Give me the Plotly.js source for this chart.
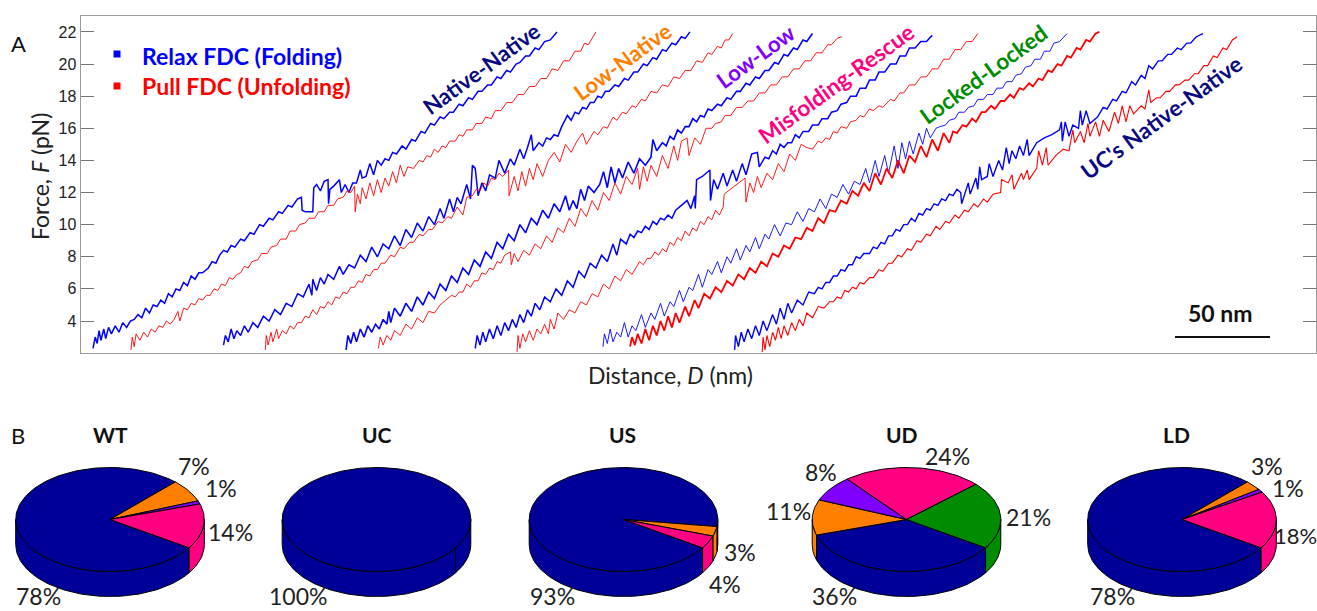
<!DOCTYPE html>
<html><head><meta charset="utf-8">
<script src="https://cdn.plot.ly/plotly-3.0.1.min.js"></script>
<style>html,body{margin:0;padding:0;background:#fff}</style></head>
<body><div id="chart" style="width:1317px;height:611px"></div>
<script>
// ---- Panel A: force-distance curves, each point is [D in nm, F in pN]
const relax1=[[6.3,2.3],[7.5,3.0],[8.5,2.6],[9.5,3.4],[10.5,2.8],[12,3.5],[13,2.9],[14.5,3.6],[16,3.2],[18,3.7],[20,3.3],[22,3.9],[24,3.6],[26,4.0],[28,4.1],[30,4.4],[32,4.2],[34,4.8],[36,4.5],[38,5.0],[40,4.9],[42,5.3],[44,5.1],[46,5.7],[48,5.5],[50,6.0],[52,5.9],[54,6.4],[56,6.2],[58,6.8],[60,6.6],[62,7.0],[64,7.0],[67,7.3],[69,7.7],[71,7.6],[73,8.1],[75,8.4],[77,8.3],[79,8.7],[81,8.6],[84,9.1],[86,9.0],[89,9.5],[91,9.4],[94,10],[96,9.9],[99,10.4],[101,10.3],[104,10.8],[106,10.7],[109,11.2],[111,11.1],[114,11.6],[116,11.7],[116.4,10.9],[118,10.8],[122,10.8],[122.5,12.3],[124,12.5],[126,12.1],[128,12.7],[130,12.8],[130.3,11.3],[131,12.2],[133,12.4],[136,12.8],[137,12.0],[139,12.5],[141,12.0],[143,12.6],[145,12.6],[147,13.4],[148,12.9],[150,13.0],[152,13.8],[154,13.1],[156,14],[158,13.7],[160,14.1],[162,14],[164,14.5],[166,14.4],[169,14.9],[171,14.7],[174,15.3],[176,15.2],[179,15.8],[181,15.7],[184,16.3],[186,16.2],[189,16.7],[191,16.6],[194,17.0],[196,17.0],[199,17.5],[201,17.4],[204,17.9],[206,17.8],[209,18.3],[211,18.3],[214,18.7],[216,18.7],[219,19.2],[221,19.1],[224,19.6],[226,19.5],[229,20],[231,20.1],[234,20.5],[236,20.5],[239,21],[241,20.9],[244,21.4],[247,21.5],[250.5,22]];
const pull1=[[26.3,2.2],[27,3.0],[28,2.4],[29,3.2],[31,2.8],[33,3.3],[35,3.0],[37,3.5],[39,3.3],[41,3.7],[43,3.6],[45,4.0],[47,3.8],[49,4.1],[51,4.6],[52,4.0],[54,4.8],[56,4.7],[58,5.1],[60,5.0],[62,5.4],[64,5.3],[66,5.6],[68,5.6],[70,6.0],[72,5.9],[74,6.3],[76,6.2],[78,6.7],[80,6.6],[82,6.9],[84,7.0],[86,7.4],[88,7.3],[90,7.7],[93,7.8],[95,8.2],[98,8.2],[100,8.6],[103,8.7],[105,9.1],[108,9.1],[110,9.6],[113,9.6],[115,10],[118,10.1],[120,10.4],[123,10.4],[125,10.8],[128,10.8],[130,11.2],[133,11.2],[135,11.6],[138,11.7],[140,12.1],[142,12.0],[144,12.4],[144.3,10.8],[145.5,11.9],[147,11.3],[148,12.3],[150,11.6],[152,12.6],[154,11.8],[156,12.8],[158,12],[160,12.9],[162,12.4],[164,13.3],[166,12.6],[168,13.7],[170,13],[172,13.6],[175,13.5],[178,14.0],[180,13.9],[182,14.3],[184,14.2],[186,14.7],[188,14.5],[190,14.9],[192,14.8],[194,15.2],[197,15.2],[199,15.6],[201,15.5],[203,15.9],[206,15.9],[208,16.3],[211,16.3],[213,16.7],[216,16.6],[218,17.1],[221,17.1],[224,17.6],[227,17.6],[230,18.1],[233,18.1],[236,18.6],[239,18.6],[242,19.1],[245,19.1],[248,19.7],[251,19.6],[254,20.2],[257,20.2],[260,20.8],[263,20.8],[265,21.3],[267,21.2],[269,21.6],[271,22]];
const relax2=[[75,2.5],[76,3.1],[77.5,2.7],[79,3.5],[80.5,2.9],[82,3.4],[84,3.1],[86,3.7],[88,3.3],[90.5,3.9],[93,3.6],[96,4.3],[99,4.0],[102,4.7],[105,4.4],[108,5.1],[111,4.9],[114,5.7],[117,5.5],[120,6.3],[121.5,5.6],[122,6.6],[124,5.9],[126,6.7],[128,6.3],[130,6.9],[133,6.6],[136,7.4],[138,6.9],[141,7.5],[144,7.3],[147,8.1],[150,7.7],[153,8.6],[156,8.0],[159,8.8],[162,8.5],[165,9.3],[168,8.7],[171,9.7],[174,9.2],[177,10.1],[180,9.6],[183,10.5],[186,10],[189,11],[191,10.4],[194,11.6],[196,10.8],[198,11.7],[200,11.3],[203,12.5],[205,11.6],[206,13.7],[207.5,13.5],[209,11.8],[211,12.6],[213,12.1],[215,13.1],[218,12.9],[220,14],[223,13.2],[226,14.1],[228,13.7],[231,14.7],[233,14.1],[235,14.8],[237,15.6],[238,14.6],[241,15.1],[243,14.9],[245,15.4],[247,15.3],[249,15.6],[251,15.5],[253,16.1],[256,16.8],[258,16.5],[260,17],[262,16.9],[264,17.3],[266,17.2],[268,17.6],[270,17.6],[272,18],[274,17.9],[276,18.3],[278,18.3],[281,18.7],[283,18.6],[286,19.1],[288,19],[291,19.5],[293,19.5],[296,20],[298,19.9],[301,20.4],[303,20.3],[306,20.9],[308,20.8],[311,21.3],[313,21.2],[316,21.7],[318,21.6],[320.5,22]];
const pull2=[[97,2.2],[97.5,3.1],[98.5,2.5],[100,3.3],[101,2.7],[103,3.5],[104,2.9],[106,3.4],[108,3.2],[110,3.7],[112,3.5],[114,3.9],[116,3.9],[118,4.3],[120,4.2],[122,4.7],[124,4.4],[126,4.9],[128,4.8],[130,5.2],[132,5.0],[134,5.5],[136,5.4],[138,5.8],[140,5.7],[142,6.1],[144,6.1],[146,6.5],[148,6.4],[150,6.9],[152,6.8],[154,7.2],[156,7.2],[158,7.6],[160,7.6],[163,8.1],[165,8],[168,8.6],[170,8.5],[173,8.9],[175,8.9],[178,9.4],[180,9.3],[183,9.7],[185,9.7],[188,10.2],[190,10.1],[193,10.5],[195,10.4],[198,11.1],[201,10.6],[203,11.7],[206,11.8],[208,12.2],[210,12.1],[212,12.6],[214,12.4],[216,12.9],[218,12.8],[220,13.2],[222,13],[225,13.4],[225.3,11.8],[228,13],[230,12.1],[232,13.3],[234,12.4],[236,13.5],[238,12.8],[240,13.8],[243,13],[246,14],[249,14.5],[252,13.9],[255,15],[258,14.5],[261,15.2],[264,15.7],[266,15.0],[270,15.8],[272,15.6],[275,16.1],[277,16],[280,16.7],[282,16.5],[285,17],[287,16.9],[290,17.4],[292,17.3],[295,17.8],[297,17.7],[300,18.3],[303,18.2],[306,18.7],[309,18.6],[312,19.2],[315,19.1],[318,19.6],[321,19.6],[324,20.2],[327,20.1],[330,20.7],[332,20.6],[335,21.1],[337,21],[339,21.5],[341,21.5],[343,21.9]];
const relax3=[[139.5,2.2],[140.5,3.1],[142,2.6],[143.5,3.3],[145,2.7],[147,3.5],[149,3.0],[151,3.7],[153,3.3],[155,3.8],[157,3.5],[159,4.1],[161,3.8],[162,4.6],[163,3.9],[165,4.8],[168,4.3],[171,5.1],[174,4.6],[177,5.5],[180,5.0],[183,5.8],[186,5.4],[189,6.3],[192,5.9],[195,6.8],[198,6.4],[201,7.3],[204,6.9],[207,7.8],[210,7.4],[213,8.3],[216,7.9],[219,8.9],[222,8.5],[225,9.4],[228,9.0],[231,10],[234,9.5],[237,10.4],[240,10],[243,10.9],[246,10.4],[249,11.3],[252,10.8],[255,11.8],[257,10.9],[259,11.5],[261,11],[263,12.2],[265,11.5],[267,12.4],[270,12.0],[273,12.5],[275,13.3],[277,12.3],[279,13.6],[281,12.6],[283,13.5],[285,12.9],[288,13.9],[291,13.2],[294,14.1],[297,13.7],[300,14.2],[301,15.3],[303,14.6],[306,15.1],[308,14.9],[310,15.5],[312,15.3],[314,15.9],[316,15.7],[318,16.1],[320,16.1],[322,16.6],[324,16.4],[326,16.8],[328,16.7],[330,17.2],[332,17.1],[335,17.5],[337,17.4],[340,17.9],[342,17.8],[345,18.3],[347,18.3],[350,18.8],[352,18.7],[355,19.2],[357,19.1],[360,19.6],[362,19.6],[365,20.1],[367,20],[370,20.6],[372,20.5],[375,21],[377,20.9],[380,21.5],[382,21.4],[385,21.9]];
const pull3=[[156.5,2.3],[157.5,3.0],[159,2.5],[161,3.1],[163,2.8],[165,3.4],[168,3.1],[171,3.8],[174,3.5],[177,4.2],[180,3.9],[183,4.6],[186,4.5],[189,5.0],[192,5.3],[195,5.6],[197,5.5],[199,5.8],[201,5.8],[203,6.3],[205,6.1],[207,6.5],[209,6.5],[211,7.0],[213,6.9],[215,7.3],[217,7.2],[219,7.7],[221,7.6],[223,8.1],[226,8.3],[226.5,7.5],[228,8.2],[230,7.7],[233,8.4],[236,8.1],[239,8.8],[242,8.5],[245,9.3],[248,8.9],[251,9.8],[254,9.5],[257,10.4],[260,9.9],[263,11],[266,10.5],[269,11.5],[272,10.9],[275,12],[278,11.5],[281,12.6],[284,11.9],[287,13],[290,12.5],[293,13.5],[294,12.2],[296,13.6],[298,12.7],[300,13.7],[303,13],[306,14.3],[309,13.5],[312,14.9],[314,14],[316,15.2],[319,15.4],[320,14.3],[323,15.4],[326,15],[329,16],[332,16],[334,16.3],[337,16.4],[339,16.8],[342,16.8],[345,17.3],[348,17.3],[351,17.7],[354,17.7],[357,18.2],[360,18.2],[363,18.7],[366,18.7],[369,19.2],[372,19.2],[375,19.7],[378,19.7],[381,20.2],[384,20.2],[387,20.7],[390,20.7],[393,21.2],[395,21.2],[398,21.6],[400.5,21.7]];
const relax4=[[207.5,2.3],[208.5,3.1],[210,2.5],[211.5,3.3],[213,2.7],[215,3.5],[217,2.9],[219,3.7],[221,3.1],[223,3.9],[225,3.4],[227,4.1],[229,3.6],[231,4.4],[233,3.9],[235,4.7],[237,4.3],[239,5.1],[241.5,4.7],[244,5.5],[247,5.2],[250,6],[253,5.6],[256,6.5],[259,6.1],[262,7.1],[265,6.7],[268,7.6],[271,7.3],[274,8.1],[277,7.7],[280,8.8],[282,8.1],[284,9.1],[287,8.8],[289,9.4],[291,9.2],[293,9.6],[295,9.5],[297,9.9],[299,9.7],[301,10.2],[303,10.0],[305,10.4],[307,10.3],[309,10.6],[311,10.4],[313,10.9],[316,11.2],[319,11.5],[321,11],[323,11.8],[323.3,11],[324,12.8],[327,13],[331,13.4],[331.3,11.5],[333,12.8],[335,12.2],[338,13.2],[340,12.4],[343,13.4],[345,12.7],[348,13.8],[350,13.1],[353,14.4],[356,14.5],[357,13.6],[360,14.2],[362,14.1],[364,14.6],[366,14.4],[368,15],[370,14.8],[372,15.1],[374,15.1],[376,15.6],[378,15.4],[380,15.8],[383,15.8],[385,16.2],[388,16.2],[390,16.6],[393,16.6],[395,17],[398,17.1],[400,17.5],[403,17.6],[405,18],[408,18],[410,18.5],[413,18.5],[415,19],[418,19],[420,19.5],[423,19.5],[426,20],[429,20],[431,20.5],[434,20.5],[436,21],[439,21],[442,21.4],[445,21.4],[448,21.8]];
const pull4=[[229.5,2.05],[230,3.1],[231,2.3],[232.5,3.2],[234,2.7],[236,3.4],[238,2.8],[240,3.5],[242,3.2],[244,3.8],[246,3.2],[247,4.1],[249,3.5],[251,4.5],[254,4.1],[257,4.7],[260,4.5],[263,5.2],[266,5],[269,5.7],[272,5.5],[275,6.3],[278,6],[281,6.8],[284,6.5],[287,7.2],[290,6.9],[294,7.7],[296,7.5],[298,7.9],[300,7.9],[302,8.3],[304,8.1],[306,8.5],[308,8.3],[310,8.9],[312,8.7],[314,9.2],[316,9],[318,9.6],[320,9.3],[322,9.8],[324,9.6],[326,10.2],[328,10],[330,10.5],[332,10.3],[334,10.9],[336,10.6],[338,11.1],[338.5,11.9],[342,12.2],[346,12.6],[349.5,12.9],[350,11.4],[352,12.6],[354,12],[356,13],[358,12.3],[361,13.2],[364,12.8],[367,13.8],[370,13.3],[373,14.4],[376,14],[379,15],[382,14.8],[385,14.7],[388,15.2],[390,15.1],[392,15.4],[394,15.3],[396,15.8],[398,15.7],[400,16.1],[403,16],[405,16.4],[408,16.5],[410,16.8],[412,16.7],[415,17.2],[417,17.1],[420,17.4],[422,17.3],[426,17.8],[428,17.7],[431,18.2],[433,18.2],[436,18.7],[439,18.7],[442,19.2],[445,19.2],[448,19.7],[451,19.7],[454,20.3],[457,20.3],[460,20.9],[463,20.9],[466,21.4],[469,21.4],[472,21.9]];
const relax5=[[274.7,2.4],[275.5,3.2],[277,2.6],[278.5,3.5],[280,2.7],[282,3.3],[284,3.0],[286,3.9],[288,3.0],[290,3.7],[292,3.4],[295,4.4],[297,3.6],[300,4.5],[302,4.1],[305,5.1],[307,4.3],[310,5.2],[312,4.9],[315,5.9],[317,5.2],[320,6.1],[322,5.9],[325,6.9],[327,6.1],[330,7.2],[332,6.9],[335,7.7],[337,7.0],[340,8.0],[342,7.6],[345,8.5],[347,7.8],[350,8.7],[352,8.3],[355,9.2],[357,8.5],[360,9.4],[362,9.1],[365,10],[368,9.3],[371,10.1],[374,10],[377,10.8],[380,10.2],[383,11],[386,10.8],[389,11.6],[392,11],[395,11.9],[398,11.7],[401,12.5],[404,11.9],[407,12.7],[410,12.5],[413,13.5],[415,12.6],[418,14],[420,13],[423,14.3],[425,13.2],[428,14.9],[430,13.5],[432,15.1],[434,14.1],[436,15.2],[438,14.4],[441,15.7],[443,15],[445,16],[447,15.4],[450,16],[452,16.1],[455,16.2],[457,16.5],[460,16.6],[462,17],[465,17],[467,17.3],[470,17.4],[472,17.8],[475,17.8],[477,18.1],[480,18.1],[482,18.5],[485,18.5],[487,18.9],[490,18.9],[492,19.3],[495,19.4],[497,19.8],[500,19.9],[502,20.3],[505,20.3],[507,20.8],[510,20.8],[512,21.3],[515,21.4],[519,21.9]];
const pull5=[[289,2.4],[290,3.0],[291.5,2.5],[293,3.2],[295,2.6],[297,3.5],[299,2.8],[301,3.7],[303,3.1],[305,4.0],[307,3.4],[309,4.3],[311,3.6],[313,4.5],[315,3.9],[318,4.9],[320,4.3],[323,5.3],[325,4.8],[328,5.7],[331,5.4],[334,6.1],[337,5.8],[340,6.5],[343,6.2],[346,6.9],[349,6.6],[352,7.3],[355,7.0],[358,7.7],[361,7.4],[364,8.2],[367,8],[370,8.7],[373,8.5],[376,9.2],[379,9.1],[382,9.8],[385,9.6],[388,10.4],[391,10.1],[394,10.9],[397,10.8],[400,11.5],[403,11.3],[406,12.1],[409,11.8],[412,12.6],[415,12.1],[418,13.2],[421,12.5],[424,13.5],[427,12.9],[430,14],[433,13.2],[436,14.3],[439,13.9],[442,14.9],[445,14.2],[448,15.3],[451,14.6],[454,15.7],[457,15.1],[459,15.8],[461,15.7],[464,16.2],[466,16.1],[469,16.6],[471,16.4],[474,17],[476,17],[479,17.4],[481,17.2],[484,17.7],[486,17.7],[489,18.1],[491,17.9],[494,18.5],[496,18.4],[499,18.8],[501,18.6],[504,19.1],[506,19],[509,19.6],[511,19.5],[514,20],[516,19.9],[519,20.5],[521,20.4],[524,21],[526,20.9],[529,21.5],[531,21.4],[534,21.9],[536,22]];
const relax6=[[344,2.2],[344.5,3.1],[346,2.4],[347.5,3.3],[349,2.7],[351,3.5],[353,2.9],[355,3.7],[357,3.1],[359,4],[361,3.4],[364,4.4],[366,3.8],[368,4.8],[370,4.1],[372,5.1],[374,4.5],[377,5.3],[380,5],[383,5.8],[386,5.7],[388,6.1],[390,6],[392,6.4],[394,6.4],[396,6.8],[398,6.8],[400,7.2],[402,7.1],[404,7.5],[406,7.5],[408,8],[410,7.9],[412,8.2],[415,8.2],[417,8.6],[419,8.5],[421,8.9],[423,8.8],[425,9.3],[427,9.3],[429,9.7],[431,9.6],[433,10],[435,10],[437,10.4],[439,10.2],[441,10.7],[443,10.6],[445,11],[447,10.9],[449,11.3],[451,11.2],[453,11.6],[455,11.5],[457,11.9],[459,11.8],[461,12.2],[463,12],[463.5,11.3],[467,12.6],[468,11.9],[471,12.9],[472,12.2],[473,13.6],[474,12.8],[477,13],[478,13.8],[480,13.0],[483,14],[485,13.4],[487,14.8],[488.5,13.8],[490,14.6],[492,14.1],[494,14.9],[496,14.3],[498,15.3],[499,14.3],[503,15.1],[507,15.4],[511,15.6],[515,15.9],[516,16.4],[516.5,15.2],[518,16.4],[520,15.5],[522,16.2],[525,16],[526,17.1],[527,16.2],[529,17.1],[531,16.3],[535,16.7],[538,17.3],[540,17.2],[543,17.8],[545,17.7],[548,18.3],[550,18.2],[553,18.9],[555,18.7],[558,19.3],[560,19.1],[562,19.9],[564,19.7],[567,20.2],[569,20.2],[572,20.6],[574,20.6],[577,21],[579,20.9],[582,21.3],[584,21.3],[587,21.7],[590.5,21.9]];
const pull6=[[358.5,2.05],[359,3],[360,2.2],[361,3.1],[362.5,2.4],[364,3.3],[365.5,2.8],[367,3.6],[368.5,2.9],[370,3.7],[372,3.1],[374,3.9],[376,3.4],[378,4.1],[380,3.7],[382,4.5],[385,4.2],[388,4.9],[391,4.8],[394,5.2],[396,5.2],[398,5.5],[400,5.4],[402,5.9],[404,5.8],[406,6.1],[408,6],[410,6.4],[412,6.3],[415,6.7],[417,6.7],[420,7.2],[422,7.1],[425,7.6],[427,7.6],[430,8.1],[432,8],[435,8.5],[437,8.4],[440,9],[442,8.9],[445,9.4],[447,9.3],[450,9.9],[452,9.7],[455,10.2],[457,10.1],[460,10.6],[462,10.4],[465,10.9],[467,10.8],[470,11.3],[472,11.1],[475,11.6],[477,11.4],[480,11.9],[484,12],[484.5,12.8],[488,12.6],[490,13.1],[491,12.2],[495,13.2],[496,12.8],[498,13.4],[499,12.8],[503,13.5],[504,14.6],[506,13.7],[508,14.8],[509,13.7],[513,14.3],[517,14.7],[520,14.6],[522,15.9],[523,15.1],[526,15.8],[528,15.1],[530,16.3],[531,15.5],[534,16.4],[536,15.5],[538,16.5],[541,15.8],[544,17],[546,16.3],[548,17.4],[550,16.4],[552,17.4],[554,16.9],[558,17.4],[560,17.2],[562,18.4],[563,17.6],[566,17.9],[568,17.9],[571,18.3],[573,18.3],[576,18.7],[578,18.7],[581,19],[583,19],[586,19.4],[588,19.4],[591,19.9],[593,19.9],[596,20.5],[598,20.4],[601,21],[603,20.9],[606,21.5],[608.5,21.7]];
const forceTicks=[4,6,8,10,12,14,16,18,20,22];

// ---- Panel B: pie shares
const sliceColors=['#000099','#ff8000','#8000ff','#ff0080','#008c00'];
const pieNames=['WT','UC','US','UD','LD'];
const shareWT=[78,7,1,14,0];
const shareUC=[100,0,0,0,0];
const shareUS=[93,3,0,4,0];
const shareUD=[36,11,8,24,21];
const shareLD=[78,3,1,18,0];

// ---- Layout constants (page pixels)
const W=1317,H=611;
const pieCx=[110,376.5,623.5,906.5,1182], pieCy=519.5, rx=94.3, ry=52, depth=25, startDeg=-33;
const shares=[shareWT,shareUC,shareUS,shareUD,shareLD];

const curve=(pts,color,width)=>({type:'scatter',mode:'lines',x:pts.map(p=>p[0]),y:pts.map(p=>p[1]),xaxis:'x',yaxis:'y',showlegend:false,hoverinfo:'skip',line:{color,width,shape:'linear'}});
const BLUE='#0000ff',RED='#ff0000';
const traces=[
 curve(relax1,BLUE,1.5),curve(pull1,RED,0.9),
 curve(relax2,BLUE,1.5),curve(pull2,RED,0.9),
 curve(relax3,BLUE,1.6),curve(pull3,RED,0.9),
 curve(relax4,BLUE,1.5),curve(pull4,RED,0.9),
 curve(relax5,BLUE,0.9),curve(pull5,RED,1.8),
 curve(relax6,BLUE,1.4),curve(pull6,RED,1.1)
];

function arc(cx,cy,a0,a1){ // a0 > a1, clockwise
  const xs=[],ys=[];const n=Math.max(2,Math.ceil((a0-a1)/2));
  for(let i=0;i<=n;i++){const a=(a0+(a1-a0)*i/n)*Math.PI/180;xs.push(cx+rx*Math.cos(a));ys.push(cy-ry*Math.sin(a));}
  return [xs,ys];
}
const poly=(x,y,c)=>({type:'scatter',mode:'lines',x,y,xaxis:'x2',yaxis:'y2',fill:'toself',fillcolor:c,showlegend:false,hoverinfo:'skip',line:{color:'#000',width:1}});
pieCx.forEach((cx,k)=>{
  const tops=[],sides=[];let a=startDeg;
  shares[k].forEach((p,i)=>{
    if(!p)return;
    const a1=a-360*p/100,c=sliceColors[i];
    [[0,-180],[-360,-540]].forEach(([hi,lo])=>{
      const s=Math.min(a,hi),e=Math.max(a1,lo);
      if(s>e){
        const [tx,ty]=arc(cx,pieCy,s,e),[bx,by]=arc(cx,pieCy+depth,s,e);
        sides.push(poly(tx.concat(bx.slice().reverse(),[tx[0]]),ty.concat(by.slice().reverse(),[ty[0]]),c));
      }
    });
    const [ax,ay]=arc(cx,pieCy,a,a1);
    tops.push(p===100?poly(ax,ay,c):poly([cx].concat(ax,[cx]),[pieCy].concat(ay,[pieCy]),c));
    a=a1;
  });
  traces.push(...sides,...tops);
});

const LAT='Lato, "Noto Sans", sans-serif';
const note=(text,x,y,size,color,extra)=>Object.assign({text,x,y,xref:'x2',yref:'y2',showarrow:false,xanchor:'center',yanchor:'middle',font:{family:LAT,size,color}},extra||{});
const b=t=>'<b>'+t+'</b>';
const annotations=[
 note('A',18,43,22,'#111'),note('B',18,435,22,'#111'),
 note(b('Relax FDC (Folding)'),241.5,56,23,BLUE),
 note(b('Pull FDC (Unfolding)'),246,86,23,RED),
 note(b('Native-Native'),481,68,22,'#0a0a80',{textangle:-36}),
 note(b('Low-Native'),622,61,22,'#ff8000',{textangle:-36}),
 note(b('Low-Low'),755,56,22,'#8000ff',{textangle:-36}),
 note(b('Misfolding-Rescue'),836,83,22.5,'#ff0080',{textangle:-36}),
 note(b('Locked-Locked'),983,74,22.5,'#008c00',{textangle:-36}),
 note(b("UC's Native-Native"),1161,117,22.5,'#0a0a80',{textangle:-36}),
 note(b('50 nm'),1220,313,23,'#111'),
 note('Distance, <i>D</i> (nm)',670,375,23,'#222'),
 note('Force, <i>F</i> (pN)',40,177,23,'#222',{textangle:-90})
];
const titleX=[110,377,622,902,1176];
pieNames.forEach((n,i)=>annotations.push(note(b(n),titleX[i],434,21,'#111')));
[[shareWT[1],194,466],[shareWT[2],221,488],[shareWT[3],230,532],[shareWT[0],38,595.5],
 [shareUC[0],298,595.5],
 [shareUS[1],740,552],[shareUS[3],725,584],[shareUS[0],552,595.5],
 [shareUD[3],947,456],[shareUD[2],821,472],[shareUD[1],788,511],[shareUD[4],1028,517],[shareUD[0],834,595.5],
 [shareLD[1],1267,466],[shareLD[2],1288,488],[shareLD[0],1112,595.5]
].forEach(([v,x,y])=>annotations.push(note(v+'%',x,y,23,'#222')));
annotations.push(note(shareLD[3]+'%',1295,535,22,'#222'));

const px=(x0,y0,x1,y1,c,w,type)=>({type:type||'rect',xref:'x2',yref:'y2',x0,y0,x1,y1,fillcolor:type?undefined:c,line:{color:c,width:w}});
const layout={
 width:W,height:H,autosize:false,margin:{l:0,r:0,t:0,b:0},paper_bgcolor:'#fff',plot_bgcolor:'rgba(0,0,0,0)',showlegend:false,
 xaxis:{domain:[81/W,1316/W],range:[0,1235/1.9],showgrid:false,zeroline:false,showticklabels:false,ticks:'',showline:true,mirror:true,linecolor:'#9a9a9a',linewidth:1.5,anchor:'y'},
 yaxis:{domain:[(H-352.5)/H,(H-16)/H],range:[4-31.5/16.06,4+305/16.06],tickvals:forceTicks,showgrid:false,zeroline:false,ticks:'inside',ticklen:13,tickwidth:1,tickcolor:'#777',mirror:'ticks',showline:true,linecolor:'#9a9a9a',linewidth:1.5,tickfont:{family:'"Liberation Sans",Arial,sans-serif',size:16,color:'#222'},anchor:'x'},
 xaxis2:{domain:[0,1],range:[0,W],visible:false,anchor:'y2'},
 yaxis2:{domain:[0,1],range:[H,0],visible:false,anchor:'x2'},
 annotations,
 shapes:[px(113.5,50.5,120.5,57.5,BLUE,0),px(113.5,82.5,120.5,89.5,RED,0),px(1175,337,1270,337,'#111',2,'line')]
};
Plotly.newPlot('chart',traces,layout,{displayModeBar:false,staticPlot:true});
</script></body></html>
